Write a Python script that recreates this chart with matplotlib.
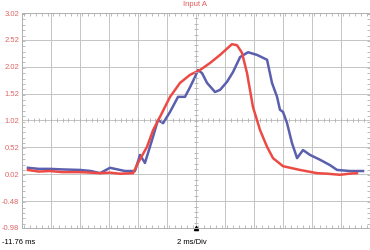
import numpy as np
import matplotlib
matplotlib.use('Agg')
import matplotlib.pyplot as plt
from matplotlib.ticker import MultipleLocator

plt.rcParams['font.family'] = ['Liberation Sans', 'DejaVu Sans']

# time in ms, voltage
red_t = [-11.35, -10.6, -9.83, -9.0, -7.76, -7.0, -6.38, -5.7, -5.0, -4.10, -3.76, -3.14,
         -2.72, -2.24, -1.55, -0.86, -0.17, 0.52, 1.21, 1.90, 2.72, 3.07, 3.41, 3.76,
         4.17, 4.66, 5.14, 5.55, 6.24, 7.41, 8.0, 8.59, 9.3, 10.17, 10.8, 11.34]
red_v = [0.10, 0.07, 0.08, 0.06, 0.06, 0.05, 0.04, 0.05, 0.03, 0.04, 0.23, 0.53,
         0.84, 1.09, 1.46, 1.72, 1.87, 1.96, 2.09, 2.24, 2.44, 2.42, 2.28, 1.90,
         1.27, 0.84, 0.53, 0.32, 0.17, 0.10, 0.07, 0.04, 0.03, 0.01, 0.03, 0.04]

blue_t = [-11.35, -10.6, -9.83, -9.0, -7.76, -7.0, -6.38, -5.69, -4.66, -3.97, -3.62, -3.28,
          -2.79, -2.38, -2.03, -1.55, -1.00, -0.52, -0.17, 0.17, 0.38, 0.66, 1.00, 1.55,
          1.90, 2.38, 2.79, 3.28, 3.83, 4.45, 5.14, 5.48, 5.83, 6.03, 6.24, 6.52,
          6.86, 7.21, 7.62, 8.10, 8.79, 9.48, 9.97, 10.86, 11.76]
blue_v = [0.14, 0.12, 0.12, 0.11, 0.10, 0.08, 0.04, 0.14, 0.08, 0.08, 0.38, 0.23,
          0.66, 1.03, 0.97, 1.18, 1.46, 1.46, 1.64, 1.83, 1.96, 1.90, 1.72, 1.55,
          1.59, 1.74, 1.92, 2.20, 2.29, 2.24, 2.15, 1.72, 1.46, 1.22, 1.18, 0.97,
          0.60, 0.32, 0.47, 0.38, 0.29, 0.19, 0.10, 0.08, 0.08]

y_ticks = [3.02, 2.52, 2.02, 1.52, 1.02, 0.52, 0.02, -0.48, -0.98]
t0 = -11.76
div = 2.0

fig = plt.figure(figsize=(3.7, 2.5), dpi=100)
ax = fig.add_axes([22/370, 22/250, 348/370, 215/250])

ax.plot(blue_t, blue_v, color='#5a5fae', lw=1.8)
ax.plot(red_t, red_v, color='#ec4b45', lw=1.8)

ax.set_xlim(t0, t0 + 12*div)
ax.set_ylim(-0.98, 3.02)
ax.set_xticks([t0 + i*div for i in range(13)])
ax.set_yticks(y_ticks)
ax.set_xticklabels([])
ax.set_yticklabels(['%.2f' % v for v in y_ticks], color='#e06464', fontsize=5.5)
ax.grid(True, color='#c4c4c4', lw=0.7)
ax.tick_params(axis='both', which='major', length=0, pad=2)
ax.xaxis.set_minor_locator(MultipleLocator(div/5))
ax.yaxis.set_minor_locator(MultipleLocator(0.1))
ax.tick_params(which='minor', direction='in', length=2, color='#b0b0b0',
               top=True, bottom=True, left=True, right=True)
for s in ax.spines.values():
    s.set_color('#b0b0b0')
    s.set_linewidth(0.7)

# center axis tick marks
xc = t0 + 6*div
yc = 1.02
mt = np.arange(t0, t0 + 12*div + 0.01, div/5)
ax.plot(mt, [yc]*len(mt), '|', color='#b0b0b0', ms=3, mew=0.6)
mv = np.arange(-0.98, 3.03, 0.1)
ax.plot([xc]*len(mv), mv, '_', color='#b0b0b0', ms=3, mew=0.6)

ax.plot([xc], [-0.98], marker='^', color='black', ms=3, clip_on=False)

fig.text(195/370, 1 - 5/250, 'Input A', color='#e05a5a', fontsize=5.5, ha='center', va='center')
fig.text(2/370, 1 - 243/250, '-11.76 ms', color='black', fontsize=5.5, ha='left', va='center')
fig.text(192/370, 1 - 243/250, '2 ms/Div', color='black', fontsize=5.5, ha='center', va='center')

fig.savefig('out.png', dpi=100)
